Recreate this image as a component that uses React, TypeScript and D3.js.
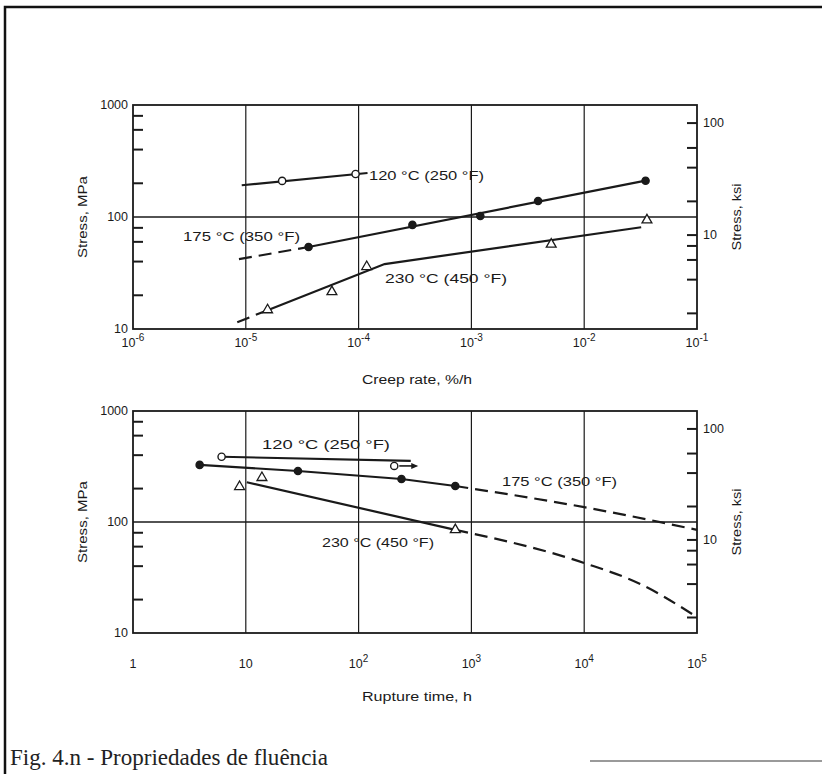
import React from 'react';
import * as d3 from 'd3';

const W = 822;
const H = 774;
const L = 133; // plot left
const R = 697; // plot right
const KSI = 6.895; // MPa per ksi

// stress axes
const mpaLabels = [10, 100, 1000];
const mpaMinor = [20, 40, 60, 80, 200, 400, 600, 800];
const ksiTicks = [2, 4, 6, 8, 10, 20, 40, 60, 100];
const ksiLabels = [10, 100];

// top panel: creep rate (%/h)
const creepTicks = [1e-6, 1e-5, 1e-4, 1e-3, 1e-2, 1e-1];
const creepTickText = [['10', '-6'], ['10', '-5'], ['10', '-4'], ['10', '-3'], ['10', '-2'], ['10', '-1']];

const creep120Pts = [[2.1e-5, 210], [9.4e-5, 242]];
const creep120Line = [[9.2e-6, 192], [1.2e-4, 247]];
const creep175Pts = [[3.6e-5, 54], [3.0e-4, 85], [1.2e-3, 102], [3.9e-3, 139], [3.5e-2, 211]];
const creep175Solid = [[3.6e-5, 54], [3.5e-2, 211]];
const creep175Dash = [[8.7e-6, 42], [3.6e-5, 54]];
const creep230Pts = [[1.56e-5, 14.8], [5.8e-5, 21.5], [1.18e-4, 36], [5.1e-3, 57], [3.6e-2, 94]];
const creep230Dash = [[8.4e-6, 11.5], [1.5e-5, 14.5]];
const creep230Solid = [[1.5e-5, 14.5], [1.7e-4, 38], [3.2e-2, 81]];

// bottom panel: rupture time (h)
const ruptTicks = [1, 10, 1e2, 1e3, 1e4, 1e5];
const ruptTickText = [['1', ''], ['10', ''], ['10', '2'], ['10', '3'], ['10', '4'], ['10', '5']];

const rupt120Pts = [[6.1, 387], [207, 320]];
const rupt120Line = [[6.1, 387], [290, 355]];
const rupt175Pts = [[3.9, 327], [29, 288], [240, 244], [720, 211]];
const rupt175Dash = [[720, 211], [1e4, 136], [1e5, 85]];
const rupt230Pts = [[8.8, 208], [13.9, 251], [720, 85]];
const rupt230Solid = [[10.2, 228], [720, 85]];
const rupt230Dash = [[720, 85], [1e4, 42.7], [3.15e4, 27.6], [1e5, 13.9]];

const INK = '#1a1a1a';

const Panel = ({ top, bottom, domain, ticks, tickText, tickY, title, titleY, lines, marks, notes, arrows = [] }: any) => {
  const x = d3.scaleLog().domain(domain).range([L, R]);
  const y = d3.scaleLog().domain([10, 1000]).range([bottom, top]);
  const line = (curved: boolean) =>
    d3
      .line<number[]>()
      .x((d) => x(d[0]))
      .y((d) => y(d[1]))
      .curve(curved ? d3.curveMonotoneX : d3.curveLinear);
  const tri = d3.symbol().type(d3.symbolTriangle).size(42)();

  return (
    <g>
      {/* grid */}
      {ticks.slice(1, -1).map((t: number) => (
        <line key={'g' + t} x1={x(t)} x2={x(t)} y1={top} y2={bottom} stroke={INK} strokeWidth={1.2} />
      ))}
      <line x1={L} x2={R} y1={y(100)} y2={y(100)} stroke={INK} strokeWidth={1.4} />
      <rect x={L} y={top} width={R - L} height={bottom - top} fill="none" stroke={INK} strokeWidth={1.8} />

      {/* MPa ticks */}
      {mpaMinor.map((v) => (
        <line key={'m' + v} x1={L} x2={L + 10} y1={y(v)} y2={y(v)} stroke={INK} strokeWidth={2} />
      ))}
      {mpaLabels.map((v) => (
        <text key={'ml' + v} x={L - 5} y={y(v)} dy="0.35em" textAnchor="end" fontSize={12.5} fill={INK}>
          {v}
        </text>
      ))}
      {/* ksi ticks */}
      {ksiTicks.map((v) => (
        <line key={'k' + v} x1={R - 10} x2={R} y1={y(v * KSI)} y2={y(v * KSI)} stroke={INK} strokeWidth={2} />
      ))}
      {ksiLabels.map((v) => (
        <text key={'kl' + v} x={R + 6} y={y(v * KSI)} dy="0.35em" fontSize={12.5} fill={INK}>
          {v}
        </text>
      ))}

      {/* x labels */}
      {ticks.map((t: number, i: number) => (
        <text key={'x' + t} x={x(t)} y={tickY} textAnchor="middle" fontSize={12.5} fill={INK}>
          <tspan>{tickText[i][0]}</tspan>
          {tickText[i][1] && (
            <tspan dy={-6} fontSize={10}>
              {tickText[i][1]}
            </tspan>
          )}
        </text>
      ))}
      <text x={417} y={titleY} dy="0.35em" textAnchor="middle" fontSize={12.5} textLength={110} lengthAdjust="spacingAndGlyphs" fill={INK}>
        {title}
      </text>
      <text
        transform={`translate(83,${(top + bottom) / 2}) rotate(-90)`}
        textAnchor="middle"
        dy="0.35em"
        fontSize={12.5}
        textLength={82}
        lengthAdjust="spacingAndGlyphs"
        fill={INK}
      >
        Stress, MPa
      </text>
      <text
        transform={`translate(737,${(top + bottom) / 2}) rotate(-90)`}
        textAnchor="middle"
        dy="0.35em"
        fontSize={12.5}
        textLength={67}
        lengthAdjust="spacingAndGlyphs"
        fill={INK}
      >
        Stress, ksi
      </text>

      {/* series lines */}
      {lines.map((s: any, i: number) => (
        <path
          key={'l' + i}
          d={line(!!s.curve)(s.pts) as string}
          fill="none"
          stroke={INK}
          strokeWidth={2.2}
          strokeDasharray={s.dash ? '13 7' : undefined}
        />
      ))}

      {/* markers */}
      {marks.map((m: any, i: number) =>
        m.pts.map((p: number[], j: number) =>
          m.kind === 'tri' ? (
            <path
              key={'t' + i + j}
              d={tri as string}
              transform={`translate(${x(p[0])},${y(p[1])})`}
              fill="#fff"
              stroke={INK}
              strokeWidth={1.3}
            />
          ) : (
            <circle
              key={'c' + i + j}
              cx={x(p[0])}
              cy={y(p[1])}
              r={3.6}
              fill={m.kind === 'dot' ? INK : '#fff'}
              stroke={INK}
              strokeWidth={1.4}
            />
          )
        )
      )}

      {/* run-out arrows */}
      {arrows.map((p: number[], i: number) => (
        <g key={'a' + i}>
          <line x1={x(p[0]) + 5} x2={x(p[0]) + 22} y1={y(p[1])} y2={y(p[1])} stroke={INK} strokeWidth={1.6} />
          <path d={`M${x(p[0]) + 24},${y(p[1])} l-7,-3 l0,6 z`} fill={INK} />
        </g>
      ))}

      {/* series notes */}
      {notes.map((n: any, i: number) => (
        <text
          key={'n' + i}
          x={n.x}
          y={n.y}
          dy="0.35em"
          fontSize={13}
          textLength={n.w}
          lengthAdjust="spacingAndGlyphs"
          fill={INK}
        >
          {n.text}
        </text>
      ))}
    </g>
  );
};

const App = () => {
  return (
    <svg
      width={W}
      height={H}
      style={{ position: 'absolute', left: 0, top: 0, background: '#fff' }}
      fontFamily="'Liberation Sans', Arial, sans-serif"
    >
      <rect x={0} y={0} width={W} height={H} fill="#fff" />
      <path d="M5,774 V7 H822" fill="none" stroke="#111" strokeWidth={2.5} />
      <line x1={590} x2={822} y1={761} y2={761} stroke="#9a9a9a" strokeWidth={2} />

      <Panel
        top={105}
        bottom={329}
        domain={[1e-6, 1e-1]}
        ticks={creepTicks}
        tickText={creepTickText}
        tickY={347}
        title="Creep rate, %/h"
        titleY={380}
        lines={[
          { pts: creep120Line },
          { pts: creep175Dash, dash: true },
          { pts: creep175Solid },
          { pts: creep230Dash, dash: true },
          { pts: creep230Solid },
        ]}
        marks={[
          { pts: creep120Pts, kind: 'open' },
          { pts: creep175Pts, kind: 'dot' },
          { pts: creep230Pts, kind: 'tri' },
        ]}
        notes={[
          { text: '120 °C (250 °F)', x: 369, y: 175, w: 115 },
          { text: '175 °C (350 °F)', x: 183, y: 236, w: 117 },
          { text: '230 °C (450 °F)', x: 385, y: 278, w: 122 },
        ]}
      />

      <Panel
        top={411}
        bottom={633}
        domain={[1, 1e5]}
        ticks={ruptTicks}
        tickText={ruptTickText}
        tickY={668}
        title="Rupture time, h"
        titleY={697}
        lines={[
          { pts: rupt120Line },
          { pts: rupt175Pts },
          { pts: rupt175Dash, dash: true, curve: true },
          { pts: rupt230Solid },
          { pts: rupt230Dash, dash: true, curve: true },
        ]}
        marks={[
          { pts: rupt120Pts, kind: 'open' },
          { pts: rupt175Pts, kind: 'dot' },
          { pts: rupt230Pts, kind: 'tri' },
        ]}
        arrows={[rupt120Pts[1]]}
        notes={[
          { text: '120 °C (250 °F)', x: 262, y: 444, w: 128 },
          { text: '175 °C (350 °F)', x: 502, y: 481, w: 115 },
          { text: '230 °C (450 °F)', x: 322, y: 542, w: 112 },
        ]}
      />

      <text
        x={10}
        y={765}
        fontFamily="'Liberation Serif', 'DejaVu Serif', serif"
        fontSize={23}
        textLength={318}
        lengthAdjust="spacingAndGlyphs"
        fill="#222"
      >
        Fig. 4.n - Propriedades de fluência
      </text>
    </svg>
  );
};

export default App;
